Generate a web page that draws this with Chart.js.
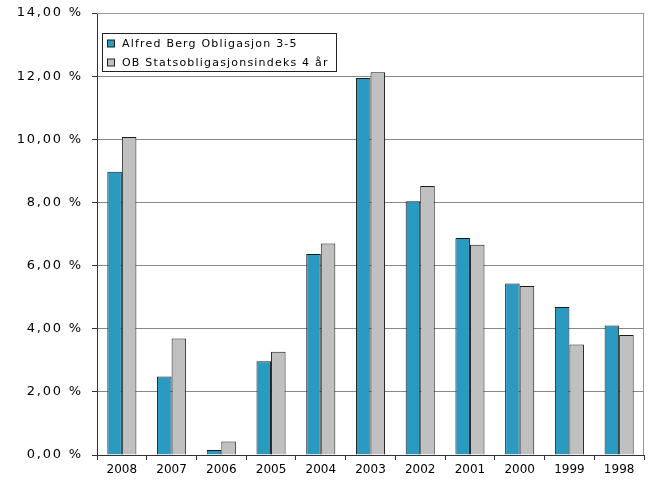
<!DOCTYPE html>
<html>
<head>
<meta charset="utf-8">
<script src="https://cdn.jsdelivr.net/npm/chart.js@4"></script>
<style>
  html, body { margin: 0; padding: 0; background: #fff; }
  #wrap { width: 651px; height: 484px; }
</style>
</head>
<body>
<div id="wrap"><canvas id="returns-chart"></canvas></div>
<script>
// Years and annual returns (%)
const years = ['2008', '2007', '2006', '2005', '2004', '2003', '2002', '2001', '2000', '1999', '1998'];
const fundReturns = [8.97, 2.49, 0.16, 2.97, 6.37, 11.94, 8.04, 6.87, 5.43, 4.69, 4.10];
const indexReturns = [10.07, 3.69, 0.43, 3.27, 6.70, 12.12, 8.52, 6.66, 5.35, 3.50, 3.80];
const seriesNames = ['Alfred Berg Obligasjon 3-5', 'OB Statsobligasjonsindeks 4 år'];
const seriesColors = ['#2B9AC0', '#C0C0C0'];

const FONT = '"DejaVu Sans", Verdana, sans-serif';

// y labels are drawn before the bars (wide spacing), x labels after (none)
const spacingPlugin = {
    id: 'spacing',
    beforeDraw(chart) { chart.ctx.letterSpacing = '1.8px'; },
    beforeDatasetsDraw(chart) { chart.ctx.letterSpacing = '0px'; }
};

// legend box inside the plot area + top/right frame
const boxLegend = {
    id: 'boxLegend',
    afterDraw(chart) {
        const ctx = chart.ctx;
        const area = chart.chartArea;
        ctx.save();
        ctx.strokeStyle = '#999';
        ctx.lineWidth = 1;
        ctx.beginPath();
        ctx.moveTo(area.left, area.top + 0.5);
        ctx.lineTo(area.right - 0.5, area.top + 0.5);
        ctx.lineTo(area.right - 0.5, area.bottom);
        ctx.stroke();

        const x = area.left + 5, y = area.top + 20;
        ctx.fillStyle = '#fff';
        ctx.fillRect(x, y, 234, 38);
        ctx.strokeStyle = '#222';
        ctx.strokeRect(x + 0.5, y + 0.5, 234, 38);
        ctx.font = '11px ' + FONT;
        ctx.letterSpacing = '1.2px';
        ctx.textBaseline = 'middle';
        chart.data.datasets.forEach((ds, i) => {
            const cy = y + 10.5 + i * 19;
            ctx.fillStyle = ds.backgroundColor;
            ctx.fillRect(x + 5, cy - 3.5, 7, 7);
            ctx.strokeStyle = '#222';
            ctx.strokeRect(x + 5.5, cy - 3.5, 7, 7);
            ctx.fillStyle = '#000';
            ctx.fillText(ds.label, x + 20, cy + 0.5);
        });
        ctx.restore();
    }
};

const ctx = document.getElementById('returns-chart').getContext('2d');
new Chart(ctx, {
    type: 'bar',
    data: {
        labels: years,
        datasets: [{
            label: seriesNames[0],
            data: fundReturns,
            backgroundColor: seriesColors[0],
            borderColor: '#1a1a1a',
            borderWidth: 1,
            borderSkipped: 'bottom'
        }, {
            label: seriesNames[1],
            data: indexReturns,
            backgroundColor: seriesColors[1],
            borderColor: '#1a1a1a',
            borderWidth: 1,
            borderSkipped: 'bottom'
        }]
    },
    options: {
        responsive: true,
        maintainAspectRatio: false,
        animation: false,
        layout: { padding: { top: 13, right: 7, left: 0, bottom: 0 } },
        plugins: {
            legend: { display: false },
            tooltip: { enabled: false }
        },
        datasets: {
            bar: { categoryPercentage: 0.585, barPercentage: 1.0 }
        },
        scales: {
            x: {
                grid: { display: true, drawOnChartArea: false, offset: true, tickLength: 5, color: '#333' },
                border: { color: '#333', width: 1 },
                ticks: { color: '#000', font: { family: FONT, size: 12 }, padding: 3, maxRotation: 0, z: 1 },
                afterFit(scale) { scale.height = 29; scale.paddingLeft = 0; scale.paddingRight = 0; }
            },
            y: {
                min: 0,
                max: 14,
                ticks: {
                    stepSize: 2,
                    color: '#000',
                    font: { family: FONT, size: 13 },
                    padding: 9,
                    callback: v => v.toFixed(2).replace('.', ',') + ' %'
                },
                grid: { color: '#888', tickColor: '#333', tickLength: 5 },
                border: { color: '#333', width: 1 },
                afterFit(scale) { scale.width = 97; scale.paddingTop = 0; scale.paddingBottom = 0; }
            }
        }
    },
    plugins: [spacingPlugin, boxLegend]
});
</script>
</body>
</html>
